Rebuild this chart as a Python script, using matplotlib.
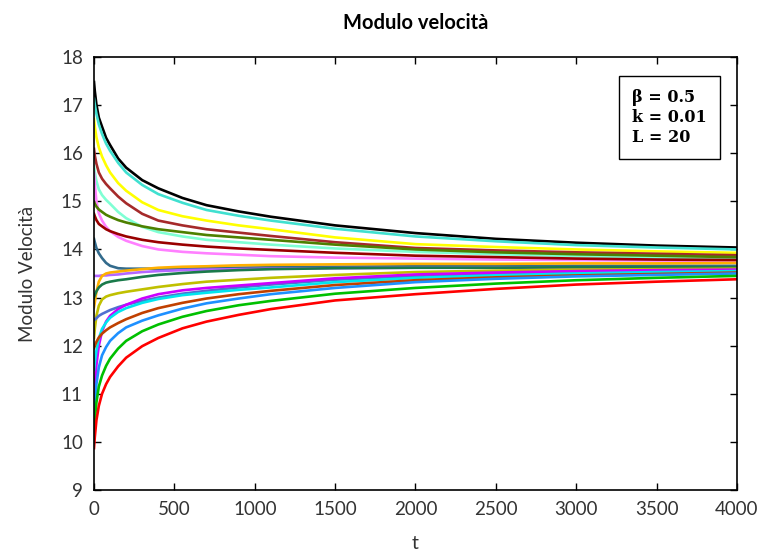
import numpy as np
import matplotlib
matplotlib.use("Agg")
import matplotlib.pyplot as plt

# time samples
t = [0, 5, 15, 30, 50, 75, 100, 150, 200, 300, 400, 550, 700, 900, 1100, 1500, 2000, 2500, 3000, 3500, 4000]

# speed modulus curves (top to bottom at t=0)
black = [17.48, 17.29, 17.01, 16.74, 16.55, 16.32, 16.17, 15.89, 15.70, 15.44, 15.27, 15.07, 14.92, 14.79, 14.68,
         14.50, 14.34, 14.22, 14.14, 14.08, 14.04]
turquoise = [17.13, 17.01, 16.82, 16.60, 16.40, 16.20, 16.05, 15.80, 15.60, 15.34, 15.15, 14.97, 14.82, 14.70, 14.60,
             14.43, 14.27, 14.17, 14.09, 14.04, 14.00]
yellow = [16.71, 16.55, 16.33, 16.12, 15.93, 15.75, 15.60, 15.38, 15.22, 14.98, 14.82, 14.69, 14.60, 14.50, 14.42,
          14.25, 14.11, 14.05, 14.00, 13.96, 13.93]
brown = [16.09, 15.95, 15.78, 15.60, 15.47, 15.36, 15.27, 15.10, 14.96, 14.74, 14.60, 14.50, 14.42, 14.35, 14.28,
         14.15, 14.03, 13.98, 13.94, 13.91, 13.88]
aquamarine = [15.73, 15.60, 15.42, 15.25, 15.13, 15.03, 14.95, 14.78, 14.65, 14.47, 14.36, 14.27, 14.20, 14.15, 14.10,
              14.02, 13.95, 13.90, 13.86, 13.83, 13.80]
pink = [15.59, 15.35, 15.00, 14.75, 14.60, 14.47, 14.38, 14.26, 14.18, 14.07, 14.00, 13.95, 13.92, 13.89, 13.86,
        13.83, 13.81, 13.79, 13.78, 13.77, 13.76]
olive = [14.99, 14.95, 14.89, 14.83, 14.78, 14.72, 14.68, 14.61, 14.56, 14.48, 14.42, 14.36, 14.30, 14.25, 14.20,
         14.10, 14.00, 13.94, 13.90, 13.87, 13.84]
darkred = [14.74, 14.69, 14.61, 14.53, 14.48, 14.42, 14.38, 14.32, 14.27, 14.20, 14.15, 14.10, 14.06, 14.02, 13.99,
           13.93, 13.87, 13.84, 13.81, 13.79, 13.78]
steel = [14.22, 14.15, 14.03, 13.92, 13.82, 13.72, 13.66, 13.61, 13.60, 13.60, 13.60, 13.60, 13.61, 13.62, 13.63,
         13.64, 13.65, 13.65, 13.66, 13.66, 13.66]
purple = [13.45, 13.45, 13.45, 13.45, 13.46, 13.46, 13.47, 13.48, 13.50, 13.53, 13.55, 13.57, 13.58, 13.59, 13.60,
          13.61, 13.62, 13.62, 13.62, 13.62, 13.62]
orange = [12.80, 12.90, 13.12, 13.33, 13.45, 13.50, 13.52, 13.54, 13.56, 13.59, 13.62, 13.64, 13.65, 13.67, 13.68,
          13.69, 13.70, 13.70, 13.71, 13.71, 13.72]
seagreen = [13.00, 13.05, 13.13, 13.21, 13.27, 13.31, 13.33, 13.36, 13.38, 13.43, 13.47, 13.51, 13.54, 13.57, 13.59,
            13.61, 13.62, 13.62, 13.63, 13.63, 13.63]
mustard = [12.16, 12.35, 12.62, 12.83, 12.96, 13.02, 13.05, 13.09, 13.12, 13.17, 13.22, 13.28, 13.33, 13.37, 13.41,
           13.47, 13.53, 13.56, 13.58, 13.59, 13.60]
slate = [12.53, 12.54, 12.57, 12.62, 12.66, 12.70, 12.74, 12.80, 12.85, 12.93, 13.00, 13.08, 13.14, 13.21, 13.27,
         13.37, 13.45, 13.50, 13.53, 13.55, 13.57]
magenta = [10.91, 11.15, 11.60, 12.00, 12.30, 12.50, 12.62, 12.76, 12.85, 12.98, 13.07, 13.15, 13.20, 13.25, 13.30,
           13.40, 13.48, 13.52, 13.55, 13.57, 13.58]
cyan = [11.50, 11.65, 11.90, 12.15, 12.35, 12.48, 12.58, 12.70, 12.78, 12.89, 12.97, 13.05, 13.10, 13.16, 13.21,
        13.32, 13.41, 13.46, 13.50, 13.53, 13.55]
sienna = [11.95, 12.00, 12.08, 12.17, 12.25, 12.32, 12.38, 12.47, 12.55, 12.68, 12.78, 12.89, 12.98, 13.07, 13.14,
          13.26, 13.36, 13.42, 13.46, 13.49, 13.52]
dodger = [10.39, 10.75, 11.20, 11.55, 11.80, 11.97, 12.10, 12.26, 12.38, 12.52, 12.63, 12.77, 12.88, 12.98, 13.07,
          13.20, 13.32, 13.39, 13.44, 13.47, 13.50]
green = [10.20, 10.45, 10.82, 11.15, 11.38, 11.58, 11.73, 11.94, 12.10, 12.30, 12.44, 12.60, 12.72, 12.84, 12.93,
         13.08, 13.20, 13.29, 13.36, 13.41, 13.45]
red = [9.87, 10.10, 10.45, 10.75, 11.00, 11.20, 11.35, 11.57, 11.75, 11.99, 12.16, 12.36, 12.50, 12.64, 12.76,
       12.94, 13.07, 13.18, 13.27, 13.33, 13.38]

series = [
    (black, "#000000"), (turquoise, "#40e0d0"), (yellow, "#ffff00"), (brown, "#a52a2a"),
    (aquamarine, "#7fffd4"), (pink, "#ff80ff"), (olive, "#4d8000"), (darkred, "#990000"),
    (steel, "#336b8c"), (purple, "#b366ff"), (orange, "#ffb000"), (seagreen, "#1a7a4a"),
    (mustard, "#c0c000"), (slate, "#5070d0"), (magenta, "#cc00ff"), (cyan, "#00e5ee"),
    (sienna, "#c04000"), (dodger, "#1e90ff"), (green, "#00c000"), (red, "#ff0000"),
]

plt.rcParams['font.family'] = ['Lato', 'DejaVu Sans']

fig = plt.figure(figsize=(7.6, 5.56), dpi=100)
ax = fig.add_axes([0.1237, 0.1187, 0.846, 0.7788])

for vals, col in series:
    ax.plot(t, vals, color=col, lw=1.9)

ax.set_xlim(0, 4000)
ax.set_ylim(9, 18)
ax.set_xticks(np.arange(0, 4001, 500))
ax.set_yticks(np.arange(9, 19, 1))
ax.tick_params(direction='in', top=True, right=True, labelsize=13.5, labelcolor='#333333',
               length=5, width=1, pad=8)
for s in ax.spines.values():
    s.set_linewidth(1.2)

ax.set_title("Modulo velocità", fontsize=14.5, fontweight='bold', pad=20)
ax.set_xlabel("t", fontsize=14, color='#333333', labelpad=12)
ax.set_ylabel("Modulo Velocità", fontsize=13.5, color='#333333', labelpad=18)

ax.text(0.837, 0.925, "β = 0.5\nk = 0.01\nL = 20", transform=ax.transAxes,
        ha='left', va='top', fontsize=11.5, fontweight='bold', family='DejaVu Serif',
        linespacing=1.2,
        bbox=dict(boxstyle='square,pad=0.85', fc='white', ec='black', lw=1))

fig.savefig("out.png", dpi=100)
